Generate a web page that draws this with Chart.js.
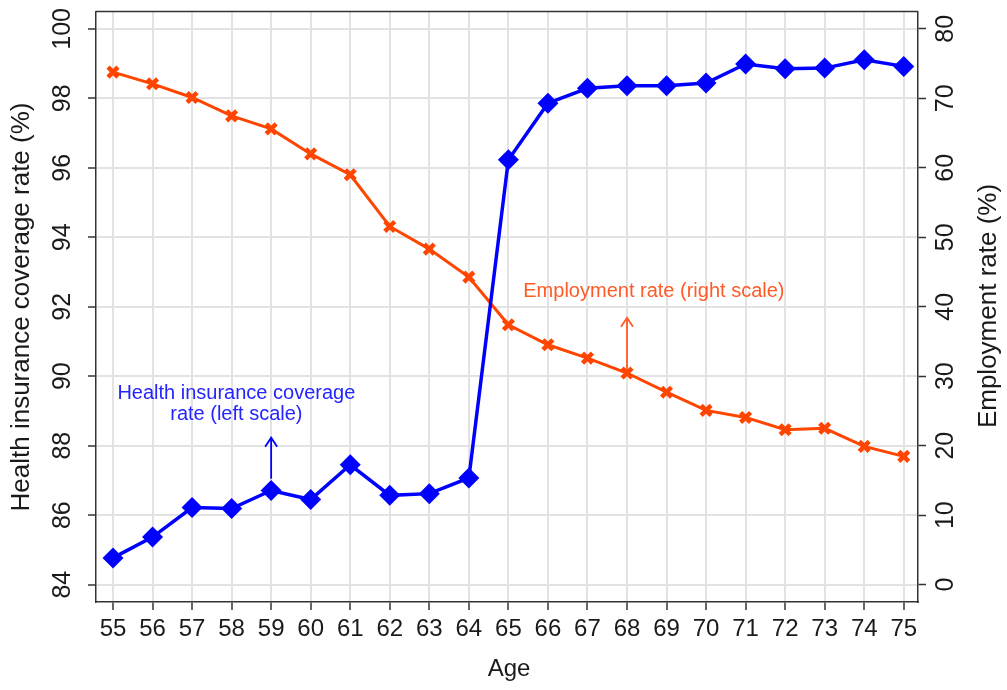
<!DOCTYPE html>
<html>
<head>
<meta charset="utf-8">
<script src="https://cdn.jsdelivr.net/npm/chart.js@4"></script>
<style>
html,body{margin:0;padding:0;background:#fff;}
canvas{display:block;}
</style>
</head>
<body>
<canvas id="c" width="1007" height="690"></canvas>
<script>
const ages = [55,56,57,58,59,60,61,62,63,64,65,66,67,68,69,70,71,72,73,74,75];
const coverage = [84.77,85.37,86.22,86.19,86.71,86.45,87.45,86.57,86.62,87.07,96.23,97.86,98.29,98.36,98.36,98.44,98.99,98.85,98.87,99.11,98.92];
const employment = [73.77,72.09,70.12,67.48,65.6,62.0,59.0,51.56,48.3,44.27,37.4,34.53,32.6,30.46,27.7,25.08,24.07,22.3,22.5,19.9,18.46];
const leftTicks = [84,86,88,90,92,94,96,98,100];
const rightTicks = [0,10,20,30,40,50,60,70,80];
const xTitle = 'Age';
const leftTitle = 'Health insurance coverage rate (%)';
const rightTitle = 'Employment rate (%)';
const blueNote = ['Health insurance coverage', 'rate (left scale)'];
const orangeNote = 'Employment rate (right scale)';

const BLUE = '#0000ff';
const ORANGE = '#ff4500';
const FONT = '"Liberation Sans", Arial, sans-serif';
const TXT = '#1a1a1a';

const covPts = ages.map((a,i)=>({x:a,y:coverage[i]}));
const empPts = ages.map((a,i)=>({x:a,y:employment[i]}));

function arrow(ctx, x, y0, y1, color){
  ctx.save();
  ctx.strokeStyle = color; ctx.lineWidth = 1.8;
  ctx.beginPath(); ctx.moveTo(x,y0); ctx.lineTo(x,y1); ctx.stroke();
  ctx.beginPath(); ctx.moveTo(x-6,y1+9); ctx.lineTo(x,y1); ctx.lineTo(x+6,y1+9); ctx.stroke();
  ctx.restore();
}

const deco = {
  id:'deco',
  beforeDatasetsDraw(chart){
    const {ctx, scales:{x,y,y2}} = chart;
    arrow(ctx, x.getPixelForValue(59), y.getPixelForValue(87.05), y.getPixelForValue(88.23), BLUE);
    arrow(ctx, x.getPixelForValue(68), y2.getPixelForValue(30.46), y2.getPixelForValue(38.4), '#ff5a28');
  },
  afterDraw(chart){
    const {ctx, chartArea:ca, scales:{x,y,y2}} = chart;
    ctx.save();
    ctx.strokeStyle = '#333'; ctx.lineWidth = 1.5;
    ctx.beginPath(); ctx.moveTo(ca.left, ca.top); ctx.lineTo(ca.right, ca.top); ctx.stroke();
    ctx.fillStyle = TXT;
    ctx.textAlign = 'center'; ctx.textBaseline = 'middle';
    ctx.font = '24px ' + FONT;
    ages.forEach(a=>{ ctx.fillText(String(a), x.getPixelForValue(a), 629); });
    ctx.fillText(xTitle, (ca.left+ca.right)/2 + 2, 669);
    ctx.font = '25px ' + FONT;
    leftTicks.forEach(v=>{
      ctx.save(); ctx.translate(63, y.getPixelForValue(v)); ctx.rotate(-Math.PI/2);
      ctx.fillText(String(v),0,0); ctx.restore();
    });
    rightTicks.forEach(v=>{
      ctx.save(); ctx.translate(946, y2.getPixelForValue(v)); ctx.rotate(-Math.PI/2);
      ctx.fillText(String(v),0,0); ctx.restore();
    });
    ctx.font = '26px ' + FONT;
    ctx.save(); ctx.translate(22, 307); ctx.rotate(-Math.PI/2); ctx.fillText(leftTitle,0,0); ctx.restore();
    ctx.save(); ctx.translate(989, 306); ctx.rotate(-Math.PI/2); ctx.fillText(rightTitle,0,0); ctx.restore();
    ctx.font = '20px ' + FONT;
    ctx.fillStyle = '#2424ff';
    ctx.fillText(blueNote[0], x.getPixelForValue(58.12), y.getPixelForValue(89.5));
    ctx.fillText(blueNote[1], x.getPixelForValue(58.12), y.getPixelForValue(88.9));
    ctx.fillStyle = '#ff5a28';
    ctx.fillText(orangeNote, x.getPixelForValue(68.68), y2.getPixelForValue(42.2));
    ctx.restore();
  }
};

new Chart(document.getElementById('c'), {
  type:'line',
  data:{
    datasets:[
      {label:'Health insurance coverage rate', data:covPts, yAxisID:'y', borderColor:BLUE, backgroundColor:BLUE,
       borderWidth:3.5, pointStyle:'rectRot', pointRadius:10.5, pointBorderWidth:0, tension:0},
      {label:'Employment rate', data:empPts, yAxisID:'y2', borderColor:ORANGE, backgroundColor:ORANGE,
       borderWidth:3, pointStyle:'crossRot', pointRadius:7, pointBorderWidth:4.5, pointBorderColor:ORANGE, tension:0}
    ]
  },
  options:{
    responsive:false, animation:false, devicePixelRatio:1,
    layout:{padding:{top:11,left:0,right:0,bottom:0}},
    plugins:{legend:{display:false}, tooltip:{enabled:false}},
    scales:{
      x:{type:'linear', position:'bottom', min:54.57, max:75.36,
        afterBuildTicks:s=>{s.ticks = ages.map(v=>({value:v}));},
        afterFit:s=>{s.height = 88;},
        ticks:{display:false},
        grid:{color:'#e3e3e3', lineWidth:2, drawTicks:true, tickLength:8, tickColor:'#333', tickWidth:1.5},
        border:{display:true, color:'#333', width:1.5}
      },
      y:{type:'linear', position:'left', min:83.5, max:100.5,
        afterBuildTicks:s=>{s.ticks = leftTicks.map(v=>({value:v}));},
        afterFit:s=>{s.width = 96;},
        ticks:{display:false},
        grid:{color:'#e3e3e3', lineWidth:2, drawTicks:true, tickLength:8, tickColor:'#333', tickWidth:1.5},
        border:{display:true, color:'#333', width:1.5}
      },
      y2:{type:'linear', position:'right', min:-2.5, max:82.5,
        afterBuildTicks:s=>{s.ticks = rightTicks.map(v=>({value:v}));},
        afterFit:s=>{s.width = 89;},
        ticks:{display:false},
        grid:{drawOnChartArea:false, drawTicks:true, tickLength:8, color:'#333', tickColor:'#333', tickWidth:1.5},
        border:{display:true, color:'#333', width:1.5}
      }
    }
  },
  plugins:[deco]
});
</script>
</body>
</html>
